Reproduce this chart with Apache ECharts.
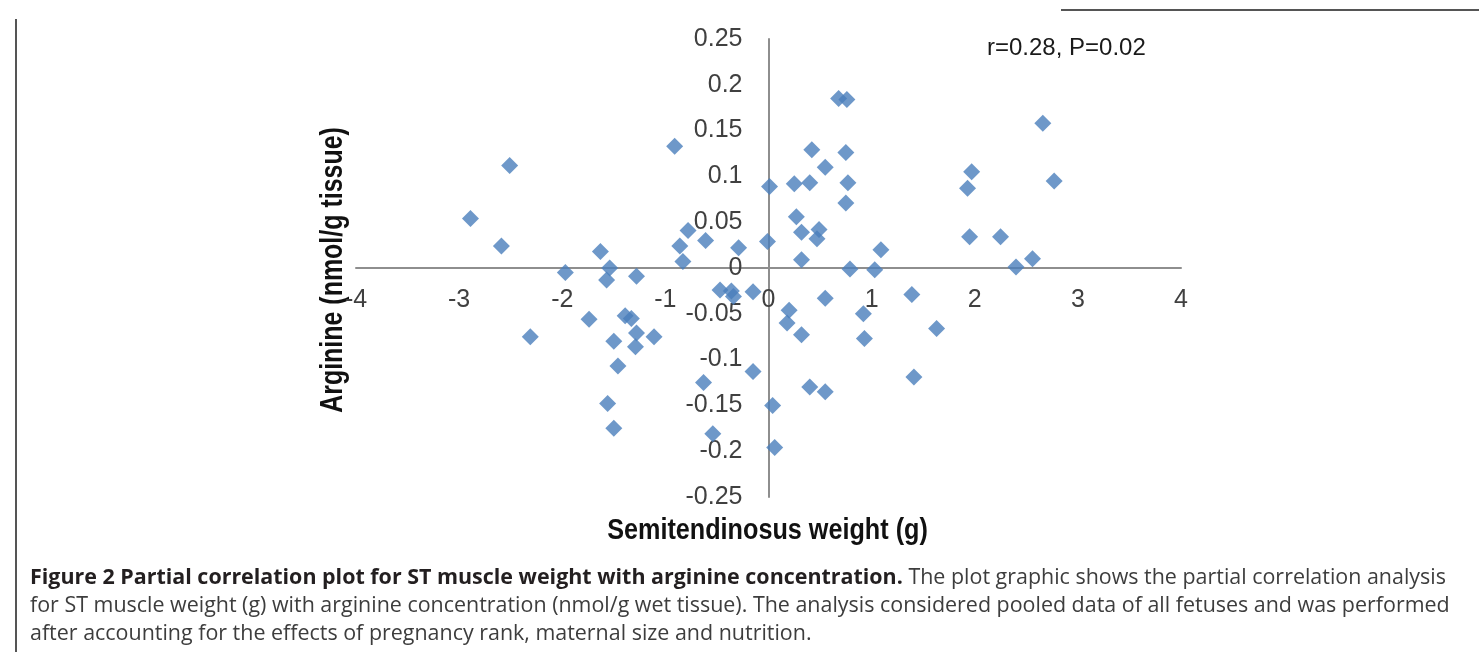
<!DOCTYPE html>
<html>
<head>
<meta charset="utf-8">
<script src="https://cdn.jsdelivr.net/npm/echarts@6/dist/echarts.min.js"></script>
<style>
  html, body { margin: 0; padding: 0; background: #ffffff; }
  #chart { width: 1479px; height: 657px; }
</style>
</head>
<body>
<div id="chart"></div>
<script>
// Semitendinosus weight residuals (g), one entry per fetus
const weightG = [
  -2.89, -2.59, -2.51, -2.31, -1.97, -1.74, -1.63, -1.56, -1.54, -1.57,
  -1.50, -1.50, -1.46, -1.39, -1.33, -1.28, -1.28, -1.29, -1.11, -0.91,
  -0.86, -0.83, -0.78, -0.61, -0.63, -0.54, -0.47, -0.36, -0.34, -0.29,
  -0.15, -0.15, -0.01,
   0.01,  0.04,  0.06,  0.18,  0.20,  0.25,  0.27,  0.32,  0.32,  0.32,
   0.40,  0.40,  0.42,  0.47,  0.49,  0.55,  0.55,  0.55,  0.68,  0.76,
   0.75,  0.77,  0.75,  0.79,  0.92,  0.93,  1.03,  1.09,  1.39,  1.41,
   1.63,  1.93,  1.97,  1.95,  2.25,  2.40,  2.56,  2.66,  2.77
];

// Arginine residuals (nmol/g tissue), same order as weightG
const arginine = [
   0.054,  0.024,  0.112, -0.075, -0.005, -0.056,  0.018, -0.148,  0.000, -0.013,
  -0.080, -0.175, -0.107, -0.052, -0.055, -0.009, -0.071, -0.086, -0.075,  0.133,
   0.024,  0.007,  0.041,  0.030, -0.125, -0.181, -0.024, -0.025, -0.031,  0.022,
  -0.026, -0.113,  0.029,
   0.089, -0.150, -0.196, -0.060, -0.046,  0.092,  0.056,  0.039,  0.009, -0.073,
   0.093, -0.130,  0.129,  0.032,  0.042,  0.110, -0.033, -0.135,  0.185,  0.184,
   0.126,  0.093,  0.071, -0.001, -0.050, -0.077, -0.002,  0.020, -0.029, -0.119,
  -0.066,  0.087,  0.105,  0.034,  0.034,  0.001,  0.010,  0.158,  0.095
];

// Axis ranges: [min, max, step]
const xRange = [-4, 4, 1];
const yRange = [-0.25, 0.25, 0.05];

const statText = 'r=0.28, P=0.02';
const xTitle = 'Semitendinosus weight (g)';
const yTitle = 'Arginine (nmol/g tissue)';

const captionBold = 'Figure 2 Partial correlation plot for ST muscle weight with arginine concentration.';
const captionLines = [
  ' The plot graphic shows the partial correlation analysis',
  'for ST muscle weight (g) with arginine concentration (nmol/g wet tissue). The analysis considered pooled data of all fetuses and was performed',
  'after accounting for the effects of pregnancy rank, maternal size and nutrition.'
];

const points = weightG.map((w, i) => [w, arginine[i]]);

// Plot area
const W = 1479, H = 657;
const grid = { left: 356, right: 298, top: 39, bottom: 160 };
const gridW = W - grid.left - grid.right;
const gridH = H - grid.top - grid.bottom;
// Move each axis (line and labels) onto the other axis' zero
const xAxisOffset = -gridH * (0 - yRange[0]) / (yRange[1] - yRange[0]);
const yAxisOffset = -gridW * (0 - xRange[0]) / (xRange[1] - xRange[0]);

// Size the caption font so the full-width line spans the text column
const capFamily = '"Open Sans", "Noto Sans", sans-serif';
const ctx = document.createElement('canvas').getContext('2d');
ctx.font = '20px ' + capFamily;
const capSize = 20 * 1420 / ctx.measureText(captionLines[1]).width;

const tickFont = { fontFamily: '"Liberation Sans", Arial, sans-serif', fontSize: 25, color: '#404040' };
const axisLineStyle = { show: true, onZero: false, lineStyle: { color: '#8e8e8e', width: 2 } };

const chart = echarts.init(document.getElementById('chart'), null, { renderer: 'canvas' });
chart.setOption({
  animation: false,
  backgroundColor: '#ffffff',
  grid: Object.assign({ containLabel: false, outerBoundsMode: 'none' }, grid),
  xAxis: {
    type: 'value',
    position: 'bottom',
    offset: xAxisOffset,
    min: xRange[0], max: xRange[1], interval: xRange[2],
    axisLine: axisLineStyle,
    axisTick: { show: false },
    splitLine: { show: false },
    axisLabel: Object.assign({ margin: 20 }, tickFont)
  },
  yAxis: {
    type: 'value',
    position: 'left',
    offset: yAxisOffset,
    min: yRange[0], max: yRange[1], interval: yRange[2],
    axisLine: axisLineStyle,
    axisTick: { show: false },
    splitLine: { show: false },
    axisLabel: Object.assign({ margin: 26 }, tickFont)
  },
  series: [{
    type: 'scatter',
    data: points,
    symbol: 'diamond',
    symbolSize: 17,
    itemStyle: { color: '#4a7ebb' },
    emphasis: { disabled: true }
  }],
  graphic: [
    { type: 'line', shape: { x1: 16, y1: 19, x2: 16, y2: 652 }, style: { stroke: '#555555', lineWidth: 2 } },
    { type: 'line', shape: { x1: 1061, y1: 10, x2: 1479, y2: 10 }, style: { stroke: '#555555', lineWidth: 2 } },
    {
      type: 'text', x: 333, y: 270, rotation: Math.PI / 2, scaleX: 0.78,
      style: { text: yTitle, font: 'bold 32px "Liberation Sans", Arial, sans-serif', fill: '#111111', textAlign: 'center', textVerticalAlign: 'middle' }
    },
    {
      type: 'text', x: 767.5, y: 531, scaleX: 0.84,
      style: { text: xTitle, font: 'bold 30px "Liberation Sans", Arial, sans-serif', fill: '#111111', textAlign: 'center', textVerticalAlign: 'middle' }
    },
    {
      type: 'text', x: 987, y: 48.5,
      style: { text: statText, font: '24px "Liberation Sans", Arial, sans-serif', fill: '#1a1a1a', textVerticalAlign: 'middle' }
    },
    {
      type: 'text', x: 30, y: 578,
      style: {
        text: '{b|' + captionBold + '}{r|' + captionLines[0] + '}',
        textVerticalAlign: 'middle',
        rich: {
          b: { fontFamily: capFamily, fontSize: capSize, fontWeight: 'bold', fill: '#231f20' },
          r: { fontFamily: capFamily, fontSize: capSize, fill: '#3d3d3d' }
        }
      }
    },
    {
      type: 'text', x: 30, y: 606,
      style: { text: captionLines[1], font: capSize + 'px ' + capFamily, fill: '#3d3d3d', textVerticalAlign: 'middle' }
    },
    {
      type: 'text', x: 30, y: 634,
      style: { text: captionLines[2], font: capSize + 'px ' + capFamily, fill: '#3d3d3d', textVerticalAlign: 'middle' }
    }
  ]
});
</script>
</body>
</html>
